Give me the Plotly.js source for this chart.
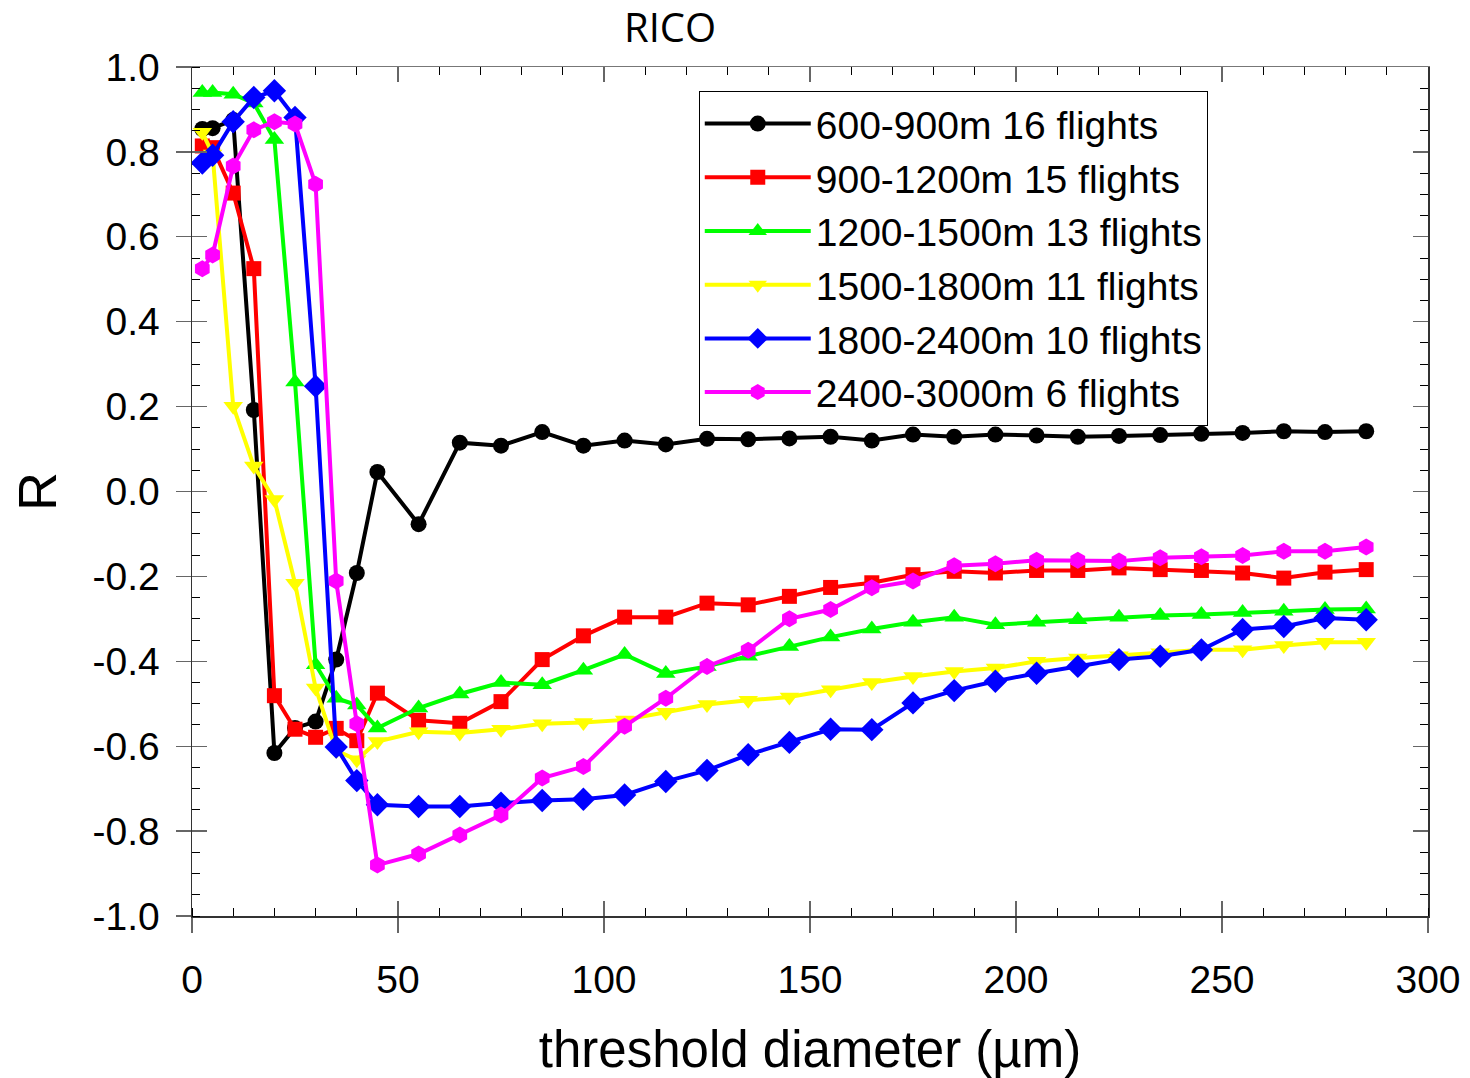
<!DOCTYPE html>
<html>
<head>
<meta charset="utf-8">
<script src="https://cdn.plot.ly/plotly-3.0.1.min.js"></script>
<style>html,body{margin:0;padding:0;background:#fff;}#chart{width:1470px;height:1078px;}</style>
</head>
<body>
<div id="chart"></div>
<script>
const diameter = [2.5,5,10,15,20,25,30,35,40,45,55,65,75,85,95,105,115,125,135,145,155,165,175,185,195,205,215,225,235,245,255,265,275,285];

const r600_900 = [0.854,0.856,0.875,0.192,-0.616,-0.557,-0.542,-0.396,-0.192,0.046,
  -0.077,0.115,0.108,0.140,0.108,0.120,0.111,0.124,0.123,0.125,0.129,0.120,
  0.134,0.129,0.134,0.132,0.129,0.131,0.133,0.136,0.138,0.142,0.140,0.142];
const r900_1200 = [0.814,0.810,0.703,0.525,-0.481,-0.560,-0.579,-0.558,-0.587,-0.475,
  -0.539,-0.546,-0.495,-0.396,-0.340,-0.296,-0.296,-0.263,-0.267,-0.247,-0.226,-0.215,
  -0.196,-0.188,-0.192,-0.186,-0.186,-0.180,-0.184,-0.186,-0.192,-0.204,-0.190,-0.184];
const r1200_1500 = [0.940,0.940,0.936,0.915,0.829,0.258,-0.408,-0.487,-0.503,-0.557,
  -0.510,-0.477,-0.450,-0.455,-0.421,-0.384,-0.429,-0.412,-0.388,-0.365,-0.343,-0.324,
  -0.308,-0.296,-0.314,-0.308,-0.302,-0.296,-0.292,-0.290,-0.285,-0.282,-0.278,-0.277];
const r1500_1800 = [0.846,0.795,0.201,0.060,-0.019,-0.216,-0.463,-0.610,-0.632,-0.589,
  -0.566,-0.569,-0.560,-0.547,-0.544,-0.538,-0.520,-0.502,-0.492,-0.484,-0.467,-0.450,
  -0.436,-0.424,-0.416,-0.400,-0.392,-0.387,-0.380,-0.373,-0.373,-0.363,-0.355,-0.355];
const r1800_2400 = [0.774,0.792,0.871,0.928,0.944,0.881,0.248,-0.602,-0.681,-0.738,
  -0.742,-0.742,-0.734,-0.728,-0.725,-0.715,-0.683,-0.657,-0.620,-0.591,-0.560,-0.561,
  -0.498,-0.469,-0.447,-0.428,-0.412,-0.396,-0.388,-0.373,-0.325,-0.318,-0.298,-0.302];
const r2400_3000 = [0.525,0.557,0.767,0.852,0.871,0.866,0.724,-0.211,-0.547,-0.880,
  -0.854,-0.809,-0.762,-0.675,-0.648,-0.553,-0.487,-0.412,-0.374,-0.300,-0.278,-0.227,
  -0.211,-0.175,-0.170,-0.162,-0.162,-0.164,-0.156,-0.154,-0.151,-0.141,-0.141,-0.131];

const seriesNames = ["600-900m 16 flights","900-1200m 15 flights","1200-1500m 13 flights",
  "1500-1800m 11 flights","1800-2400m 10 flights","2400-3000m 6 flights"];
const seriesColors = ["#000000","#ff0000","#00ff00","#ffff00","#0000ff","#ff00ff"];
const seriesSymbols = ["circle","square","triangle-up","triangle-down","diamond","hexagon"];
const seriesValues = [r600_900,r900_1200,r1200_1500,r1500_1800,r1800_2400,r2400_3000];
const markerSizes = [16,15,17,17,18,17];

const xTickVals = [0,50,100,150,200,250,300];
const xTickText = ["0","50","100","150","200","250","300"];
const yTickVals = [-1,-0.8,-0.6,-0.4,-0.2,0,0.2,0.4,0.6,0.8,1];
const yTickText = ["-1.0","-0.8","-0.6","-0.4","-0.2","0.0","0.2","0.4","0.6","0.8","1.0"];

const FONT = "'Liberation Sans', Arial, sans-serif";

const traces = seriesValues.map((vals, i) => ({
  type: "scatter", mode: "lines+markers",
  x: diameter, y: vals, name: seriesNames[i],
  line: {color: seriesColors[i], width: 4},
  marker: {color: seriesColors[i], symbol: seriesSymbols[i], size: markerSizes[i], line: {width: 0}},
  xaxis: "x", yaxis: "y"
}));
// empty helper traces so the tick-only overlay axes are created
traces.push({type:"scatter", x:[], y:[], xaxis:"x2", yaxis:"y", showlegend:false, hoverinfo:"skip"});
traces.push({type:"scatter", x:[], y:[], xaxis:"x3", yaxis:"y", showlegend:false, hoverinfo:"skip"});
traces.push({type:"scatter", x:[], y:[], xaxis:"x", yaxis:"y2", showlegend:false, hoverinfo:"skip"});
traces.push({type:"scatter", x:[], y:[], xaxis:"x", yaxis:"y3", showlegend:false, hoverinfo:"skip"});

const LINE = "#333333";
const TICK = "#666666";

const layout = {
  width: 1470, height: 1078,
  paper_bgcolor: "#ffffff", plot_bgcolor: "#ffffff",
  margin: {l: 192, r: 42, t: 67, b: 162},
  font: {family: FONT, color: "#000"},
  showlegend: true,
  title: {text: "RICO", font: {family: "Open Sans, sans-serif", size: 40, color: "#000"},
          x: 0.4558, xanchor: "center", y: 0.974, yanchor: "middle", xref: "container", yref: "container"},
  legend: {x: 0.41, y: 0.972, xanchor: "left", yanchor: "top",
           bordercolor: "#000", borderwidth: 1, bgcolor: "#fff",
           font: {family: FONT, size: 39, color: "#000"}, itemwidth: 106, tracegroupgap: 0},
  xaxis: {
    range: [0, 300], tickmode: "array", tickvals: xTickVals, ticktext: xTickText,
    ticks: "outside", ticklen: 15, tickwidth: 1.2, tickcolor: TICK,
    showline: true, linecolor: LINE, linewidth: 1.5, showgrid: false, zeroline: false,
    tickfont: {family: FONT, size: 39, color: "#000"}, ticklabelstandoff: 14,
    minor: {tickmode: "linear", tick0: 0, dtick: 10, ticks: "inside", ticklen: 8, tickcolor: "#000", tickwidth: 1, showgrid: false},
    title: {text: "threshold diameter (µm)", font: {family: FONT, size: 51, color: "#000"}, standoff: 34},
    automargin: false, anchor: "y"
  },
  xaxis2: {
    range: [0, 300], overlaying: "x", side: "top", anchor: "y",
    tickmode: "array", tickvals: xTickVals, showticklabels: false,
    ticks: "inside", ticklen: 15, tickwidth: 1.2, tickcolor: TICK,
    showline: true, linecolor: "#777", linewidth: 1.5, showgrid: false, zeroline: false,
    minor: {tickmode: "linear", tick0: 0, dtick: 10, ticks: "inside", ticklen: 8, tickcolor: "#000", tickwidth: 1, showgrid: false}
  },
  xaxis3: {
    range: [0, 300], overlaying: "x", side: "bottom", anchor: "y",
    tickmode: "array", tickvals: xTickVals, showticklabels: false,
    ticks: "inside", ticklen: 15, tickwidth: 1.2, tickcolor: TICK,
    showline: false, showgrid: false, zeroline: false
  },
  yaxis: {
    range: [-1, 1], tickmode: "array", tickvals: yTickVals, ticktext: yTickText,
    ticks: "outside", ticklen: 15, tickwidth: 1.2, tickcolor: TICK,
    showline: true, linecolor: LINE, linewidth: 1.5, showgrid: false, zeroline: false,
    tickfont: {family: FONT, size: 39, color: "#000"}, ticklabelstandoff: 8,
    minor: {tickmode: "linear", tick0: -1, dtick: 0.05, ticks: "inside", ticklen: 8, tickcolor: "#000", tickwidth: 1, showgrid: false},
    title: {text: "R", font: {family: FONT, size: 54, color: "#000"}, standoff: 18},
    automargin: false, anchor: "x"
  },
  yaxis2: {
    range: [-1, 1], overlaying: "y", side: "right", anchor: "x",
    tickmode: "array", tickvals: yTickVals, showticklabels: false,
    ticks: "inside", ticklen: 15, tickwidth: 1.2, tickcolor: TICK,
    showline: true, linecolor: LINE, linewidth: 1.5, showgrid: false, zeroline: false,
    minor: {tickmode: "linear", tick0: -1, dtick: 0.05, ticks: "inside", ticklen: 8, tickcolor: "#000", tickwidth: 1, showgrid: false}
  },
  yaxis3: {
    range: [-1, 1], overlaying: "y", side: "left", anchor: "x",
    tickmode: "array", tickvals: yTickVals, showticklabels: false,
    ticks: "inside", ticklen: 15, tickwidth: 1.2, tickcolor: TICK,
    showline: false, showgrid: false, zeroline: false
  }
};

Plotly.newPlot("chart", traces, layout, {displayModeBar: false, staticPlot: true});
</script>
</body>
</html>
